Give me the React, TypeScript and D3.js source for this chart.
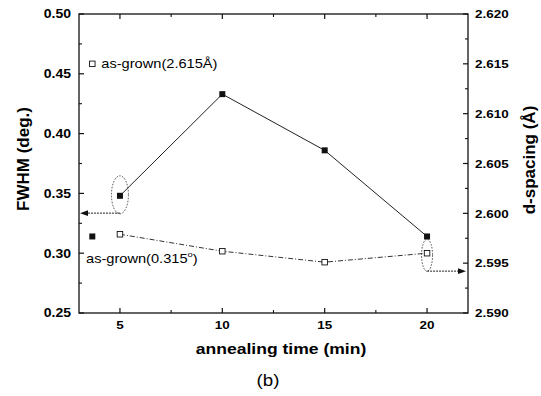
import React from "react";
import * as d3 from "d3";

const times = [5, 10, 15, 20];
const fwhm = [0.348, 0.433, 0.386, 0.314];
const dspacing = [2.5979, 2.5962, 2.5951, 2.596];
const asGrownTime = 3.65;
const asGrownFwhm = 0.314;
const asGrownD = 2.615;
const xTicks = [5, 10, 15, 20];
const xMinor = [7.5, 12.5, 17.5];
const yLeftTicks = [0.25, 0.3, 0.35, 0.4, 0.45, 0.5];
const yLeftMinor = [0.275, 0.325, 0.375, 0.425, 0.475];
const yRightTicks = [2.59, 2.595, 2.6, 2.605, 2.61, 2.615, 2.62];
const yRightMinor = [2.5925, 2.5975, 2.6025, 2.6075, 2.6125, 2.6175];
// annotation arrow levels
const arrowFwhm = 0.3335;
const arrowD = 2.5942;

const W = 541;
const H = 396;
const L = 79, R = 468, T = 14, B = 313;
const SX = 1.17; // horizontal stretch of the scanned text

const font = "'Liberation Sans', Arial, sans-serif";

function SText(props: { x: number; y: number; anchor?: string; size: number; bold?: boolean; children: React.ReactNode }) {
  const { x, y, anchor = "start", size, bold, children } = props;
  return (
    <g transform={`translate(${x},${y}) scale(${SX},1)`}>
      <text x={0} y={0} textAnchor={anchor as any} style={{ fontFamily: font, fontWeight: bold ? 700 : 400, fontSize: size }}>
        {children}
      </text>
    </g>
  );
}

export default function App() {
  const x = d3.scaleLinear().domain([3, 22]).range([L, R]);
  const yL = d3.scaleLinear().domain([0.25, 0.5]).range([B, T]);
  const yR = d3.scaleLinear().domain([2.59, 2.62]).range([B, T]);

  const lineL = d3.line<number>().x((_, i) => x(times[i])).y((v) => yL(v));
  const lineR = d3.line<number>().x((_, i) => x(times[i])).y((v) => yR(v));

  const titleStyle = { fontFamily: font, fontWeight: 700, fontSize: 17 } as const;

  const fs = 6; // filled square size
  const os = 5.5; // open square size

  const ay1 = yL(arrowFwhm);
  const ay2 = yR(arrowD);

  return (
    <svg width={W} height={H} style={{ position: "absolute", left: 0, top: 0, background: "#fff" }}>
      {/* frame */}
      <rect x={L} y={T} width={R - L} height={B - T} fill="none" stroke="#111" strokeWidth={1.3} />
      {/* x ticks bottom & top */}
      {xTicks.map((t) => (
        <g key={"xt" + t}>
          <line x1={x(t)} x2={x(t)} y1={B} y2={B - 5} stroke="#111" strokeWidth={1.2} />
          <line x1={x(t)} x2={x(t)} y1={T} y2={T + 5} stroke="#111" strokeWidth={1.2} />
          <SText x={x(t)} y={B + 15.5} anchor="middle" size={11.5} bold>{t}</SText>
        </g>
      ))}
      {xMinor.map((t) => (
        <g key={"xm" + t}>
          <line x1={x(t)} x2={x(t)} y1={B} y2={B - 3} stroke="#111" strokeWidth={1.1} />
          <line x1={x(t)} x2={x(t)} y1={T} y2={T + 3} stroke="#111" strokeWidth={1.1} />
        </g>
      ))}
      {/* left ticks */}
      {yLeftTicks.map((t) => (
        <g key={"yl" + t}>
          <line x1={L} x2={L + 5} y1={yL(t)} y2={yL(t)} stroke="#111" strokeWidth={1.2} />
          <SText x={L - 8} y={yL(t) + 4.3} anchor="end" size={12} bold>{d3.format(".2f")(t)}</SText>
        </g>
      ))}
      {yLeftMinor.map((t) => (
        <line key={"ylm" + t} x1={L} x2={L + 3} y1={yL(t)} y2={yL(t)} stroke="#111" strokeWidth={1.1} />
      ))}
      {/* right ticks */}
      {yRightTicks.map((t) => (
        <g key={"yr" + t}>
          <line x1={R} x2={R - 5} y1={yR(t)} y2={yR(t)} stroke="#111" strokeWidth={1.2} />
          <SText x={R + 7} y={yR(t) + 4.3} anchor="start" size={11.5} bold>{d3.format(".3f")(t)}</SText>
        </g>
      ))}
      {yRightMinor.map((t) => (
        <line key={"yrm" + t} x1={R} x2={R - 3} y1={yR(t)} y2={yR(t)} stroke="#111" strokeWidth={1.1} />
      ))}
      {/* axis titles */}
      <text transform={`translate(29,${159}) rotate(-90)`} textAnchor="middle" style={titleStyle}>FWHM (deg.)</text>
      <text transform={`translate(535,${160}) rotate(-90)`} textAnchor="middle" style={titleStyle}>d-spacing (Å)</text>
      <SText x={281} y={354} anchor="middle" size={15} bold>annealing time (min)</SText>
      <SText x={268} y={386} anchor="middle" size={16}>(b)</SText>

      {/* lines */}
      <path d={lineL(fwhm) || ""} fill="none" stroke="#222" strokeWidth={1} />
      <path d={lineR(dspacing) || ""} fill="none" stroke="#333" strokeWidth={1} strokeDasharray="5,2,1,2" />

      {/* filled squares */}
      {fwhm.map((v, i) => (
        <rect key={"f" + i} x={x(times[i]) - fs / 2} y={yL(v) - fs / 2} width={fs} height={fs} fill="#111" />
      ))}
      <rect x={x(asGrownTime) - fs / 2} y={yL(asGrownFwhm) - fs / 2} width={fs} height={fs} fill="#111" />
      {/* open squares */}
      {dspacing.map((v, i) => (
        <rect key={"o" + i} x={x(times[i]) - os / 2} y={yR(v) - os / 2} width={os} height={os} fill="#fff" stroke="#111" strokeWidth={0.9} />
      ))}
      <rect x={x(asGrownTime) - os / 2} y={yR(asGrownD) - os / 2} width={os} height={os} fill="#fff" stroke="#111" strokeWidth={0.9} />

      {/* labels */}
      <SText x={x(asGrownTime) + 9} y={yR(asGrownD) + 4.5} size={12.5}>as-grown(2.615Å)</SText>
      <SText x={86} y={263} size={12.5}>
        as-grown(0.315<tspan dy={-6} fontSize={8}>o</tspan><tspan dy={6}>)</tspan>
      </SText>

      {/* annotations */}
      <ellipse cx={x(times[0])} cy={yL(fwhm[0]) - 1} rx={8.5} ry={19} fill="none" stroke="#333" strokeWidth={0.9} strokeDasharray="1.5,1.5" />
      <line x1={x(times[0])} x2={L + 8} y1={ay1} y2={ay1} stroke="#222" strokeWidth={1} strokeDasharray="2,1" />
      <path d={`M${L + 1},${ay1} L${L + 9},${ay1 - 2.8} L${L + 9},${ay1 + 2.8} Z`} fill="#111" />
      <ellipse cx={x(times[3])} cy={yR(dspacing[3]) + 2} rx={5.5} ry={16} fill="none" stroke="#333" strokeWidth={0.9} strokeDasharray="1.5,1.5" />
      <line x1={x(times[3])} x2={R - 9} y1={ay2} y2={ay2} stroke="#222" strokeWidth={1} strokeDasharray="2,1" />
      <path d={`M${R - 2},${ay2} L${R - 10},${ay2 - 2.8} L${R - 10},${ay2 + 2.8} Z`} fill="#111" />
    </svg>
  );
}
